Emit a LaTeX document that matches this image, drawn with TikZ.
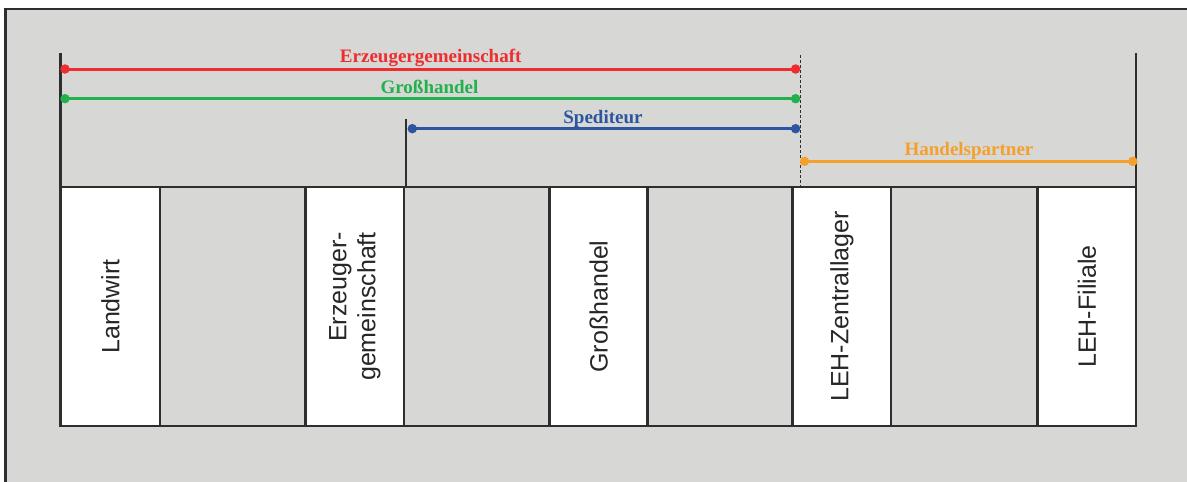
\documentclass[tikz,border=0pt]{standalone}
\usepackage{fontspec}
\setmainfont{Liberation Serif}
\newfontfamily\boxfont{Liberation Sans}
\definecolor{bggray}{HTML}{D7D7D6}
\definecolor{framegray}{HTML}{2E2E2E}
\definecolor{cred}{HTML}{EE2D2F}
\definecolor{cgreen}{HTML}{22B14C}
\definecolor{cblue}{HTML}{2B55A0}
\definecolor{corange}{HTML}{F5A02A}
\tikzset{
  col/.style={draw=framegray, line width=2.5pt, rectangle, inner sep=0pt, outer sep=0pt,
              minimum height=239pt, anchor=north west},
  wcol/.style={col, fill=white, minimum width=#1},
  gcol/.style={col, fill=bggray, minimum width=#1},
  collabel/.style={rotate=90, font=\boxfont\fontsize{25}{29}\selectfont, text=black!85, align=right},
  span/.style={line width=3pt},
  dotc/.style={circle, fill=#1, inner sep=0pt, outer sep=0pt, minimum size=9.5pt},
  spanlabel/.style={anchor=base, font=\bfseries\fontsize{19}{22}\selectfont, text=#1},
  guide/.style={draw=framegray, line width=2.5pt},
}
\begin{document}
\begin{tikzpicture}[x=1pt,y=-1pt]
\useasboundingbox (0,0) rectangle (1187,482);
\fill[white] (0,0) rectangle (1187,482);
\draw[draw=framegray, fill=bggray, line width=2.5pt] (5.5,9) rectangle (1200,500);

% columns
\node[wcol=99.3pt] (c1) at (60.7,187) {};
\node[gcol=145.7pt] (c2) at (160,187) {};
\node[wcol=98.3pt] (c3) at (305.7,187) {};
\node[gcol=145.7pt] (c4) at (404,187) {};
\node[wcol=98pt] (c5) at (549.7,187) {};
\node[gcol=145pt] (c6) at (647.7,187) {};
\node[wcol=98.3pt] (c7) at (792.7,187) {};
\node[gcol=146.7pt] (c8) at (891,187) {};
\node[wcol=98.5pt] (c9) at (1037.7,187) {};

\node[collabel] (l1) at (c1.center) {Landwirt};
\node[collabel] (l3) at (c3.center) {Erzeuger-\\gemeinschaft};
\node[collabel] (l5) at (c5.center) {Großhandel};
\node[collabel] (l7) at (c7.center) {LEH-Zentrallager};
\node[collabel] (l9) at (c9.center) {LEH-Filiale};

% guide lines
\coordinate (gL) at (60.7,53);
\coordinate (gR) at (1136.2,53);
\coordinate (gS) at (406,119);
\coordinate (gSb) at (406,187);
\coordinate (gD) at (800.5,55);
\coordinate (gDb) at (800.5,187);
\draw[guide] (gL) -- (c1.north west);
\draw[guide] (gR) -- (c9.north east);
\draw[guide] (gS) -- (gSb);
\draw[framegray, line width=0.8pt, dash pattern=on 3pt off 2pt] (gD) -- (gDb);

% spans
\node[dotc=cred] (r1) at (65,69) {};
\node[dotc=cred] (r2) at (795.6,69) {};
\draw[span, cred] (r1.center) -- (r2.center);
\node[dotc=cgreen] (g1) at (65,98.7) {};
\node[dotc=cgreen] (g2) at (795.6,98.7) {};
\draw[span, cgreen] (g1.center) -- (g2.center);
\node[dotc=cblue] (b1) at (412.3,128.7) {};
\node[dotc=cblue] (b2) at (795.6,128.7) {};
\draw[span, cblue] (b1.center) -- (b2.center);
\node[dotc=corange] (o1) at (804.5,161.3) {};
\node[dotc=corange] (o2) at (1132.8,161.3) {};
\draw[span, corange] (o1.center) -- (o2.center);

\node[spanlabel=cred] (tr) at (430.7,62.7) {Erzeugergemeinschaft};
\node[spanlabel=cgreen] (tg) at (429.5,93.3) {Großhandel};
\node[spanlabel=cblue] (tb) at (603,123.3) {Spediteur};
\node[spanlabel=corange] (to) at (969,155) {Handelspartner};
\end{tikzpicture}
\end{document}
